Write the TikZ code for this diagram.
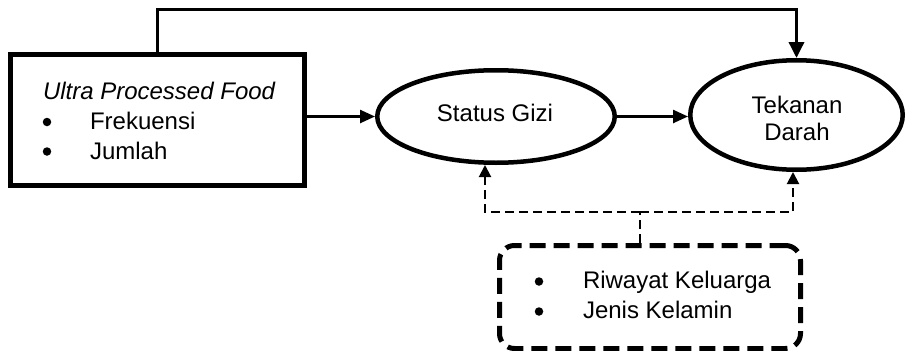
\documentclass[tikz,border=0pt]{standalone}
\usepackage{fontspec}
\setmainfont{Liberation Sans}
\usetikzlibrary{arrows.meta,shapes.geometric}
\begin{document}
\begin{tikzpicture}[x=1pt,y=-1pt,
  txt/.style={font=\fontsize{24}{30}\selectfont, inner sep=0pt, outer sep=0pt},
  dot/.style={circle, fill, inner sep=0pt, minimum size=8.5pt},
  solidbox/.style={draw, line width=5pt, minimum width=294pt, minimum height=131pt, inner sep=0pt},
  oval/.style={ellipse, draw, line width=4.5pt, inner sep=0pt},
  dbox/.style={draw, line width=5pt, rounded corners=15pt, dash pattern=on 16pt off 8pt,
               minimum width=301pt, minimum height=103pt, inner sep=0pt},
  conn/.style={line width=2.5pt, -{Triangle[length=15pt,width=13pt]}},
  dconn/.style={line width=2pt, dash pattern=on 9pt off 5pt},
  dtip/.style={-{Triangle[length=12pt,width=12pt]}}]
\useasboundingbox (0,0) rectangle (906,351);

% exposure box
\node[solidbox] (upf) at (157.5,120) {};
\node[txt, anchor=base west] (upft) at (43,99) {\itshape Ultra Processed Food};
\node[dot] (b1) at (47,122) {};
\node[txt, anchor=base west] (f1) at (90,129) {Frekuensi};
\node[dot] (b2) at (47,151.5) {};
\node[txt, anchor=base west] (f2) at (90,159) {Jumlah};

% mediator and outcome
\node[oval, minimum width=237.5pt, minimum height=92.5pt] (sg) at (496,116.5) {};
\node[txt, anchor=base] (sgt) at (495,121) {Status Gizi};
\node[oval, minimum width=212.5pt, minimum height=109.5pt] (td) at (796.5,115) {};
\node[txt, anchor=base] (tdt1) at (797,113) {Tekanan};
\node[txt, anchor=base] (tdt2) at (797,140) {Darah};

% confounders
\node[dbox] (cv) at (650,297) {};
\node[dot] (b3) at (539,281.5) {};
\node[txt, anchor=base west] (c1) at (583,288) {Riwayat Keluarga};
\node[dot] (b4) at (539,311.5) {};
\node[txt, anchor=base west] (c2) at (583,318) {Jenis Kelamin};

% solid paths
\coordinate (top) at (0,9.5);
\draw[line width=3.5pt, -{Triangle[length=16pt,width=15pt]}]
  (upf.north) |- (top -| td.north) -- (td.north);
\draw[conn] (upf.east |- sg.west) -- (sg.west);
\draw[conn] (sg.east) -- (sg.east -| td.west);

% dashed paths from confounders
\coordinate (j) at (640,212);
\draw[dconn] (j |- cv.north) -- (j);
\draw[dconn, dtip] (j) -| ([xshift=-11pt]sg.south);
\draw[dconn, dtip] (j) -| ([xshift=-3.5pt]td.south);
\end{tikzpicture}
\end{document}
